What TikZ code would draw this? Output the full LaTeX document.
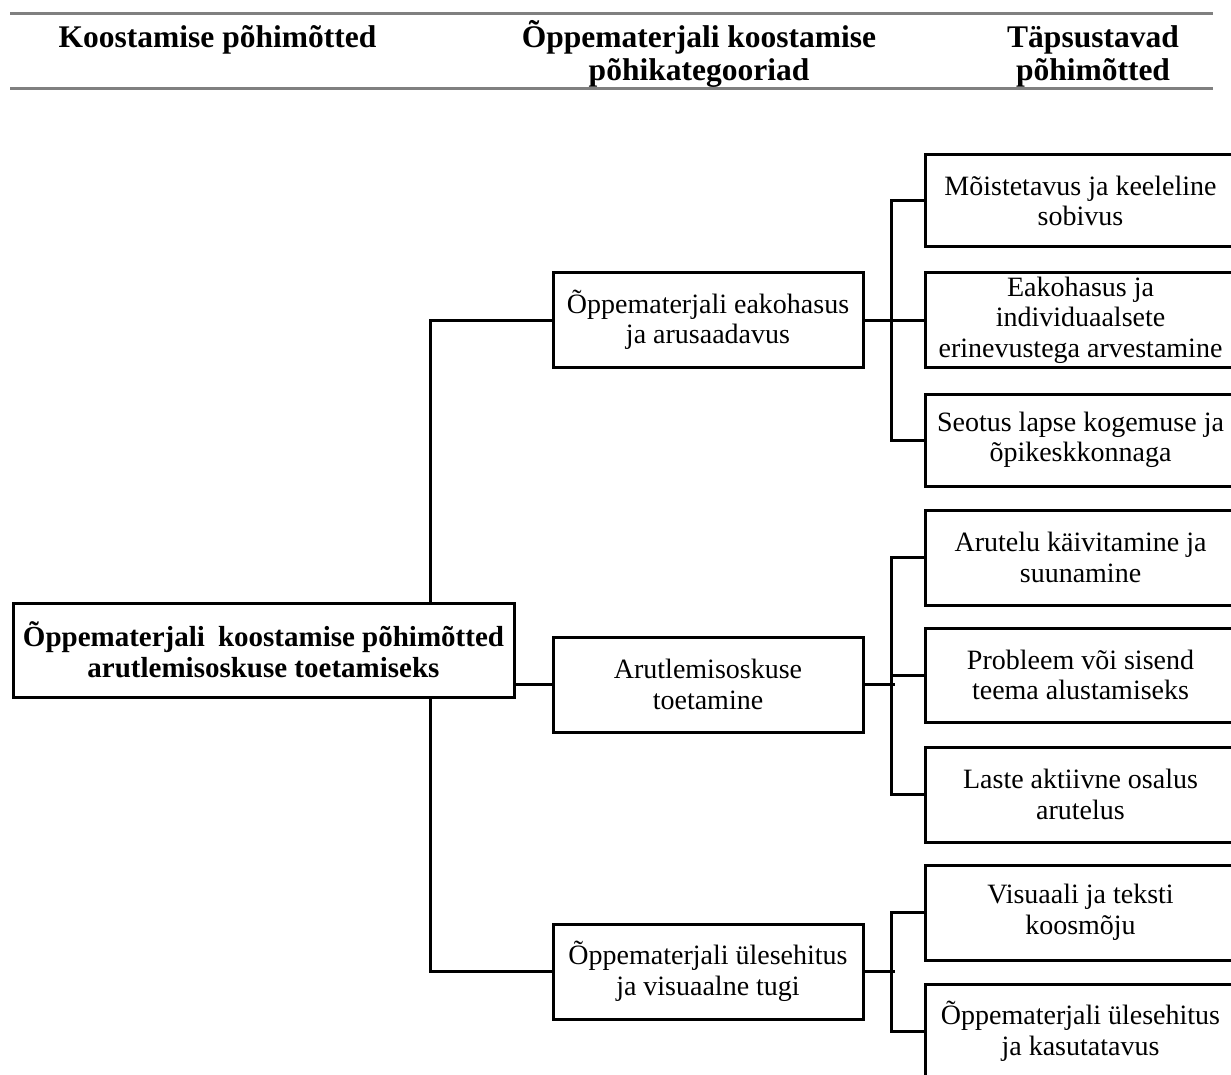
\documentclass[tikz,border=0pt]{standalone}
\usepackage{fontspec}
\setmainfont{Liberation Serif}
\begin{document}
\begin{tikzpicture}[x=1pt,y=-1pt,
  box/.style={draw=black, line width=3pt, fill=white, inner sep=0pt, align=center, font=\fontsize{28}{30.5}\selectfont},
  rbox/.style={box, minimum width=311pt, minimum height=95pt},
  mbox/.style={box, minimum width=310pt, minimum height=95pt},
  conn/.style={line width=3pt, draw=black},
  hdr/.style={font=\bfseries\fontsize{31.5}{33}\selectfont, align=center, inner sep=0pt},
  hrule/.style={line width=3pt, draw=black!50}]
\useasboundingbox (0,0) rectangle (1231,1075);
\clip (0,0) rectangle (1231,1075);

% header
\coordinate (tl) at (10,14);
\coordinate (tr) at (1213,14);
\coordinate (bl) at (10,89);
\coordinate (br) at (1213,89);
\draw[hrule] (tl) -- (tr);
\draw[hrule] (bl) -- (br);
\node[hdr, anchor=base] (h1) at (217.5,48) {Koostamise põhimõtted};
\node[hdr] (h2) at (699,54) {Õppematerjali koostamise\\põhikategooriad};
\node[hdr] (h3) at (1093,56) {Täpsustavad\\põhimõtted};

% middle column
\node[mbox, minimum height=94pt] (m1) at (708,320) {Õppematerjali eakohasus\\ja arusaadavus};
\node[mbox] (m2) at (708,684.5) {Arutlemisoskuse\\toetamine};
\node[mbox] (m3) at (708,971.5) {Õppematerjali ülesehitus\\ja visuaalne tugi};

% right column
\node[rbox, minimum height=92pt] (r1) at (1080.5,201) {Mõistetavus ja keeleline\\sobivus};
\node[rbox] (r2) at (1080.5,320) {Eakohasus ja\\individuaalsete\\erinevustega arvestamine};
\node[rbox, minimum height=92pt] (r3) at (1080.5,440) {Seotus lapse kogemuse ja\\õpikeskkonnaga};
\node[rbox] (r4) at (1080.5,557.5) {Arutelu käivitamine ja\\suunamine};
\node[rbox, minimum height=94pt] (r5) at (1080.5,675) {Probleem või sisend\\teema alustamiseks};
\node[rbox] (r6) at (1080.5,794.5) {Laste aktiivne osalus\\arutelus};
\node[rbox] (r7) at (1080.5,912.5) {Visuaali ja teksti\\koosmõju};
\node[rbox] (r8) at (1080.5,1031.5) {Õppematerjali ülesehitus\\ja kasutatavus};

% connectors right
\draw[conn] (r1.west) -- ++(-32,0) |- (r3.west);
\draw[conn] (m1.east) -- (r2.west);
\draw[conn] (r4.west) -- ++(-32,0) |- (r6.west);
\draw[conn] (r5.west) -- ++(-32,0);
\draw[conn] (m2.east) -- ++(30,0);
\draw[conn] (r7.west) -- ++(-32,0) |- (r8.west);
\draw[conn] (m3.east) -- ++(30,0);

% trunk
\draw[conn] (m1.west) -- ++(-121,0) |- (m3.west);

% root
\node[box, font=\bfseries\fontsize{29}{31}\selectfont, minimum width=501pt, minimum height=94pt] (root) at (263.5,650)
  {Õppematerjali\hspace{0.45em}koostamise põhimõtted\\arutlemisoskuse toetamiseks};
\draw[conn] (root.east |- m2.west) -- (m2.west);
\end{tikzpicture}
\end{document}
